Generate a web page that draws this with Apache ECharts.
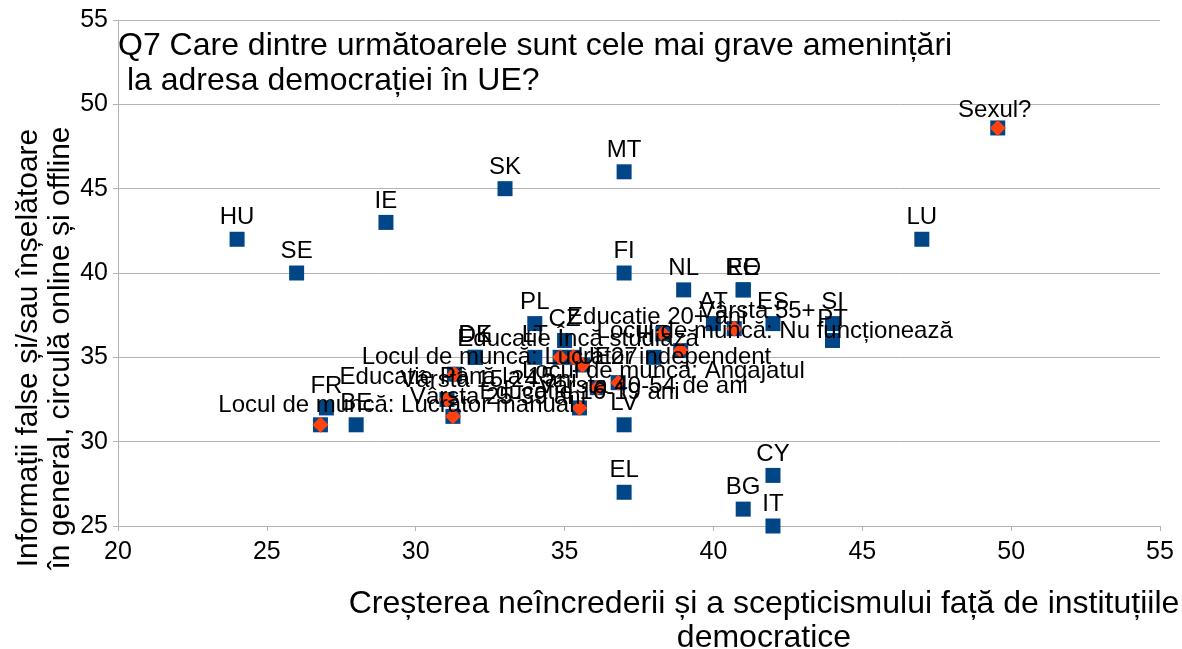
<!DOCTYPE html>
<html>
<head>
<meta charset="utf-8">
<script src="https://cdn.jsdelivr.net/npm/echarts@6/dist/echarts.min.js"></script>
<style>html,body{margin:0;padding:0;background:#fff}#c{width:1182px;height:649px}</style>
</head>
<body>
<div id="c"></div>
<script>
// ---- data ----
const countryNames = ['HU','SE','IE','SK','MT','FI','LU','NL','EE','RO','AT','ES','SI','PT','PL','CZ','DK','DE','LT','HR','FR','BE','LV','EL','CY','BG','IT'];
const countryX = [24,26,29,33,37,37,47,39,41,41,40,42,44,44,34,35,32,32,34,38,27,28,37,37,42,41,42];
const countryY = [42,40,43,45,46,40,42,39,39,39,37,37,37,36,37,36,35,35,35,35,32,31,31,27,28,26,25];

const groupNames = ['Sexul?','Locul de muncă: Lucrător manual','Vârsta 25-39 ani','Educatie Până la 15','Vârsta 15-24 ani','Educatie 16-19 ani','Locul de muncă: Lucrător independent','Locul de muncă: Angajatul','Vârsta 40-54 de ani','Educatie Încă studiază','UE27','Educatie 20+ ani','Locul de muncă: Nu funcționează','Vârsta 55+'];
const groupX = [49.55,26.8,31.25,31.05,31.3,35.5,35.6,36.1,36.8,34.85,35.3,38.3,38.9,40.7];
const groupY = [48.6,31.0,31.5,32.5,34.0,32.0,34.55,33.2,33.5,35.0,35.0,36.4,35.4,36.7];

// label placement (style only)
const groupLabelShift = [[-3,4],[76,3],[45,3],[0,0],[34,28],[0,6],[-16,14],[66,6],[25,26],[18,4],[34,22],[-6,6],[94,3],[23,5]];

const xMin = 20, xMax = 55, xStep = 5;
const yMin = 25, yMax = 55, yStep = 5;

const titleText = 'Q7 Care dintre următoarele sunt cele mai grave amenințări\n la adresa democrației în UE?';
const xTitle = 'Creșterea neîncrederii și a scepticismului față de instituțiile\ndemocratice';
const yTitle = 'Informații false și/sau înșelătoare\nîn general, circulă online și offline';

// ---- chart ----
const FONT = "'Liberation Sans', Arial, sans-serif";
const BLUE = '#004586', ORANGE = '#ff420e', GRID = '#b3b3b3';
const chart = echarts.init(document.getElementById('c'), null, {renderer:'canvas'});

const labelBase = {show:true, position:'top', distance:2, color:'#000', fontSize:24, fontFamily:FONT, formatter:'{b}'};

const countryData = countryNames.map((n,i)=>({name:n, value:[countryX[i], countryY[i]]}));
const groupSquares = groupNames.map((n,i)=>({name:n, value:[groupX[i], groupY[i]]}));
const groupDiamonds = groupNames.map((n,i)=>({name:n, value:[groupX[i], groupY[i]],
  label:{offset:groupLabelShift[i]}}));

chart.setOption({
  animation:false,
  backgroundColor:'#fff',
  title:{text:titleText, left:113, top:24,
    textStyle:{fontSize:32, lineHeight:35, fontWeight:'normal', color:'#000', fontFamily:FONT}},
  grid:{left:118, right:22, top:20, bottom:123, containLabel:false},
  xAxis:{type:'value', min:xMin, max:xMax, interval:xStep,
    axisLine:{show:true, lineStyle:{color:GRID}},
    axisTick:{show:true, length:5, lineStyle:{color:GRID}},
    splitLine:{show:false},
    axisLabel:{color:'#000', fontSize:25, fontFamily:FONT, margin:14}},
  yAxis:{type:'value', min:yMin, max:yMax, interval:yStep,
    axisLine:{show:true, lineStyle:{color:GRID}},
    axisTick:{show:true, length:5, lineStyle:{color:GRID}},
    splitLine:{show:true, lineStyle:{color:GRID, width:1}},
    axisLabel:{color:'#000', fontSize:25, fontFamily:FONT, margin:10}},
  graphic:[
    {type:'text', x:764, y:621, style:{text:xTitle, fill:'#000', font:"32px 'Liberation Sans', Arial, sans-serif",
      textAlign:'center', textVerticalAlign:'middle', lineHeight:34}},
    {type:'text', x:45, y:348, rotation:Math.PI/2, style:{text:yTitle, fill:'#000', font:"30px 'Liberation Sans', Arial, sans-serif",
      textAlign:'center', textVerticalAlign:'middle', lineHeight:32}}
  ],
  series:[
    {type:'scatter', name:'countries', symbol:'rect', symbolSize:15, data:countryData,
      itemStyle:{color:BLUE, opacity:1}, label:labelBase, z:2},
    {type:'scatter', name:'groupsBack', symbol:'rect', symbolSize:15, data:groupSquares,
      itemStyle:{color:BLUE, opacity:1}, label:{show:false}, z:3},
    {type:'scatter', name:'groups', symbol:'diamond', symbolSize:16, data:groupDiamonds,
      itemStyle:{color:ORANGE, opacity:1}, label:labelBase, z:4}
  ]
});
</script>
</body>
</html>
